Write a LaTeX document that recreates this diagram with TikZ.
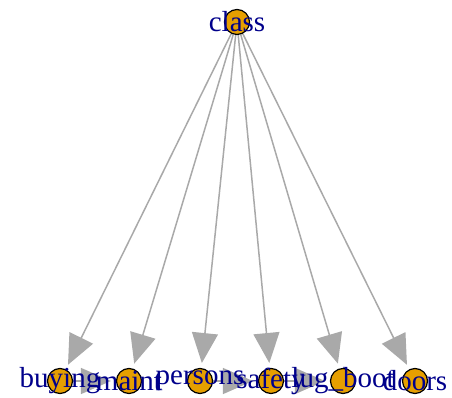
\documentclass[tikz,border=0pt]{standalone}
\usepackage{fontspec}
\setmainfont{Liberation Serif}
\usetikzlibrary{arrows.meta,backgrounds}

\definecolor{vorange}{HTML}{E69F00}
\definecolor{vlabel}{HTML}{00008B}
\definecolor{vedge}{HTML}{A9A9A9}

\begin{document}
\begin{tikzpicture}[x=1pt,y=-1pt,
    vert/.style={circle,draw=black,line width=1.2pt,fill=vorange,minimum size=25pt,inner sep=0pt},
    vlab/.style={text=vlabel,inner sep=0pt,font=\fontsize{29}{29}\selectfont},
    edge/.style={draw=vedge,line width=1.5pt,shorten >=5pt,-{Triangle[length=30pt,width=26pt]}}]
            \useasboundingbox (0,0) rectangle (452,398);

            % Draw vertices
            \node[vert] (class) at (237,22) {};
            \node[vert] (buying) at (60,381) {};
            \node[vert] (maint) at (129,381) {};
            \node[vert] (persons) at (200,381) {};
            \node[vert] (safety) at (271,381) {};
            \node[vert] (lugboot) at (343,381) {};
            \node[vert] (doors) at (415,381) {};

            % Draw edges
            \begin{pgfonlayer}{background}
              \draw[edge] (class) -- (buying);
              \draw[edge] (class) -- (maint);
              \draw[edge] (class) -- (persons);
              \draw[edge] (class) -- (safety);
              \draw[edge] (class) -- (lugboot);
              \draw[edge] (class) -- (doors);
              \draw[edge] (buying) -- (maint);
              \draw[edge] (persons) -- (safety);
              \draw[edge] (safety) -- (lugboot);
            \end{pgfonlayer}

            % Draw labels
            \node[vlab] (classlab) at (class) {class};
            \node[vlab] (buyinglab) at (buying) {buying};
            \node[vlab] (maintlab) at (maint) {maint};
            \node[vlab] (personslab) at (persons) {persons};
            \node[vlab] (safetylab) at (safety) {safety};
            \node[vlab] (lugbootlab) at (lugboot) {lug\_boot};
            \node[vlab] (doorslab) at (doors) {doors};
\end{tikzpicture}
\end{document}
